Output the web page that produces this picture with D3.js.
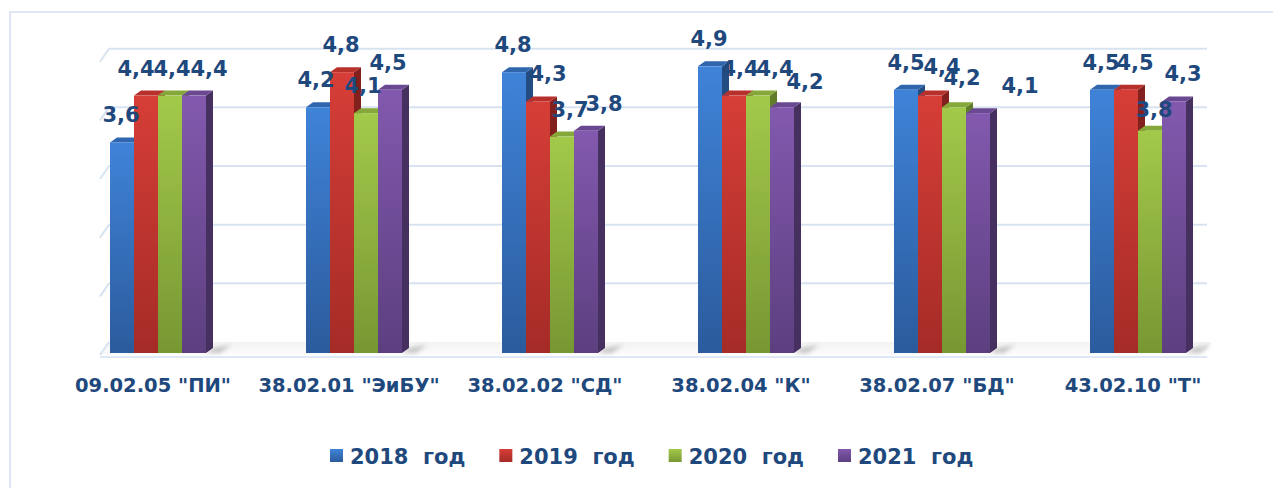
<!DOCTYPE html>
<html><head><meta charset="utf-8">
<script src="https://cdn.jsdelivr.net/npm/d3@7"></script>
<style>
html,body{margin:0;padding:0;background:#fff;}
svg{display:block;}
text{font-family:"DejaVu Sans",sans-serif;font-weight:bold;fill:#1F497D;}
</style></head>
<body><svg id="c" width="1273" height="488"></svg>
<script>
const categories = ['09.02.05 "ПИ"', '38.02.01 "ЭиБУ"', '38.02.02 "СД"', '38.02.04 "К"', '38.02.07 "БД"', '43.02.10 "Т"'];
const seriesNames = ['2018  год', '2019  год', '2020  год', '2021  год'];
const v2018 = [3.6, 4.2, 4.8, 4.9, 4.5, 4.5];
const v2019 = [4.4, 4.8, 4.3, 4.4, 4.4, 4.5];
const v2020 = [4.4, 4.1, 3.7, 4.4, 4.2, 3.8];
const v2021 = [4.4, 4.5, 3.8, 4.2, 4.1, 4.3];
const gridTicks = [0, 1, 2, 3, 4, 5];

// layout only: horizontal / vertical nudges of data labels as placed in the original
const labelNudgeX = [
  [-1, -2, -1, -1, 0, -1],
  [-10, -1, 10, 6, 12, 9],
  [2, -3, 8, 17, 8, 4],
  [15, -2, 18, 23, 42, 9]
];
const labelNudgeY = [
  [0, 0, 0, 0, 0, 0],
  [0, 0, 0, 0, -2, 0],
  [0, 0, 0, 0, -2, 6],
  [0, 0, 0, 2, 0, 0]
];

const seriesValues = [v2018, v2019, v2020, v2021];
const palette = [
  {top:'#3F83D8', bot:'#2B5B9C', cap:'#2F66AE', side:'#234C82'},
  {top:'#D63E37', bot:'#A52B27', cap:'#B8302C', side:'#82201D'},
  {top:'#A3C94A', bot:'#779733', cap:'#86A83A', side:'#627D29'},
  {top:'#8259AE', bot:'#5D3F80', cap:'#6A4892', side:'#46305F'}
];

const svg = d3.select('#c');
const defs = svg.append('defs');
palette.forEach((p,i)=>{
  const g = defs.append('linearGradient').attr('id','g'+i).attr('x1',0).attr('y1',0).attr('x2',0).attr('y2',1);
  g.append('stop').attr('offset','0%').attr('stop-color',p.top);
  g.append('stop').attr('offset','100%').attr('stop-color',p.bot);
});
const fg = defs.append('linearGradient').attr('id','floor').attr('x1',0).attr('y1',0).attr('x2',0).attr('y2',1);
fg.append('stop').attr('offset','0%').attr('stop-color','#e4e4e4');
fg.append('stop').attr('offset','100%').attr('stop-color','#f7f7f7');
const sh = defs.append('filter').attr('id','blur').attr('x','-20%').attr('y','-50%').attr('width','140%').attr('height','200%');
sh.append('feGaussianBlur').attr('stdDeviation',2);

// frame
svg.append('rect').attr('x',10).attr('y',12).attr('width',1300).attr('height',520)
  .attr('fill','none').attr('stroke','#d3e0f0').attr('stroke-width',1.5);

const x = d3.scalePoint().domain(categories).range([158, 1138]);
const xs = d3.scaleBand().domain(seriesNames).range([-48, 48]).padding(0);
const y = d3.scaleLinear().domain([0, 5]).range([353, 60.5]);
const yBack = d3.scaleLinear().domain([0, 5]).range([342, 48.7]);
const wallL = 100, wallR = 1207, wallDX = 9;
const dx = 7, dy = -5;

// floor
const floorY0 = y(0) + 2, floorY1 = yBack(0);
svg.append('polygon')
  .attr('points', [[wallL, floorY0],[wallL+wallDX, floorY1],[wallR+wallDX-4, floorY1],[wallR-4, floorY0]].map(p=>p.join(',')).join(' '))
  .attr('fill','url(#floor)').attr('opacity',0.45);

// gridlines
gridTicks.forEach(t=>{
  const yb = yBack(t);
  if (t > 0) {
    svg.append('line').attr('x1',wallL+wallDX).attr('x2',wallR).attr('y1',yb).attr('y2',yb)
      .attr('stroke','#d8e3f1').attr('stroke-width',2);
  }
  svg.append('line').attr('x1',wallL).attr('y1',yb + (floorY0-floorY1)).attr('x2',wallL+wallDX).attr('y2',yb)
    .attr('stroke','#d8e3f1').attr('stroke-width',2);
});
svg.append('line').attr('x1',wallL).attr('x2',wallR).attr('y1',floorY0+2).attr('y2',floorY0+2)
  .attr('stroke','#dfe8f4').attr('stroke-width',2);

// shadows to the right of each group
categories.forEach(c=>{
  const xr = x(c) + xs.range()[1];
  svg.append('polygon')
    .attr('points', [[xr, y(0)], [xr+dx, y(0)+dy], [xr+dx+18, y(0)+dy-3], [xr+14, y(0)]].map(p=>p.join(',')).join(' '))
    .attr('fill','#9a9a9a').attr('opacity',0.55).attr('filter','url(#blur)');
});

// bars
const bw = xs.bandwidth();
categories.forEach((c, ci)=>{
  seriesNames.forEach((s, si)=>{
    const v = seriesValues[si][ci];
    const x0 = x(c) + xs(s), yt = y(v), yb = y(0);
    const p = palette[si];
    const g = svg.append('g');
    g.append('polygon').attr('points', [[x0+bw, yt],[x0+bw+dx, yt+dy],[x0+bw+dx, yb+dy],[x0+bw, yb]].map(q=>q.join(',')).join(' '))
      .attr('fill', p.side);
    g.append('polygon').attr('points', [[x0, yt],[x0+dx, yt+dy],[x0+bw+dx, yt+dy],[x0+bw, yt]].map(q=>q.join(',')).join(' '))
      .attr('fill', p.cap);
    g.append('rect').attr('x', x0).attr('y', yt).attr('width', bw).attr('height', yb - yt)
      .attr('fill', 'url(#g'+si+')');
  });
});

// data labels
seriesNames.forEach((s, si)=>{
  categories.forEach((c, ci)=>{
    const v = seriesValues[si][ci];
    svg.append('text')
      .attr('x', x(c) + xs(s) + bw/2 + labelNudgeX[si][ci])
      .attr('y', y(v) - 20 + labelNudgeY[si][ci])
      .attr('text-anchor','middle').attr('font-size', 21)
      .text(String(v).replace('.', ','));
  });
});

// category labels
categories.forEach(c=>{
  svg.append('text').attr('x', x(c) - 5).attr('y', 392).attr('text-anchor','middle')
    .attr('font-size', 19.5).text(c);
});

// legend
const legendX = d3.scalePoint().domain(seriesNames).range([330, 838]);
seriesNames.forEach((s, si)=>{
  const lx = legendX(s);
  svg.append('rect').attr('x', lx).attr('y', 449).attr('width', 13).attr('height', 13).attr('fill', 'url(#g'+si+')');
  svg.append('text').attr('x', lx + 20).attr('y', 464).attr('font-size', 21)
    .style('white-space','pre').attr('xml:space','preserve').text(s);
});
</script></body></html>
